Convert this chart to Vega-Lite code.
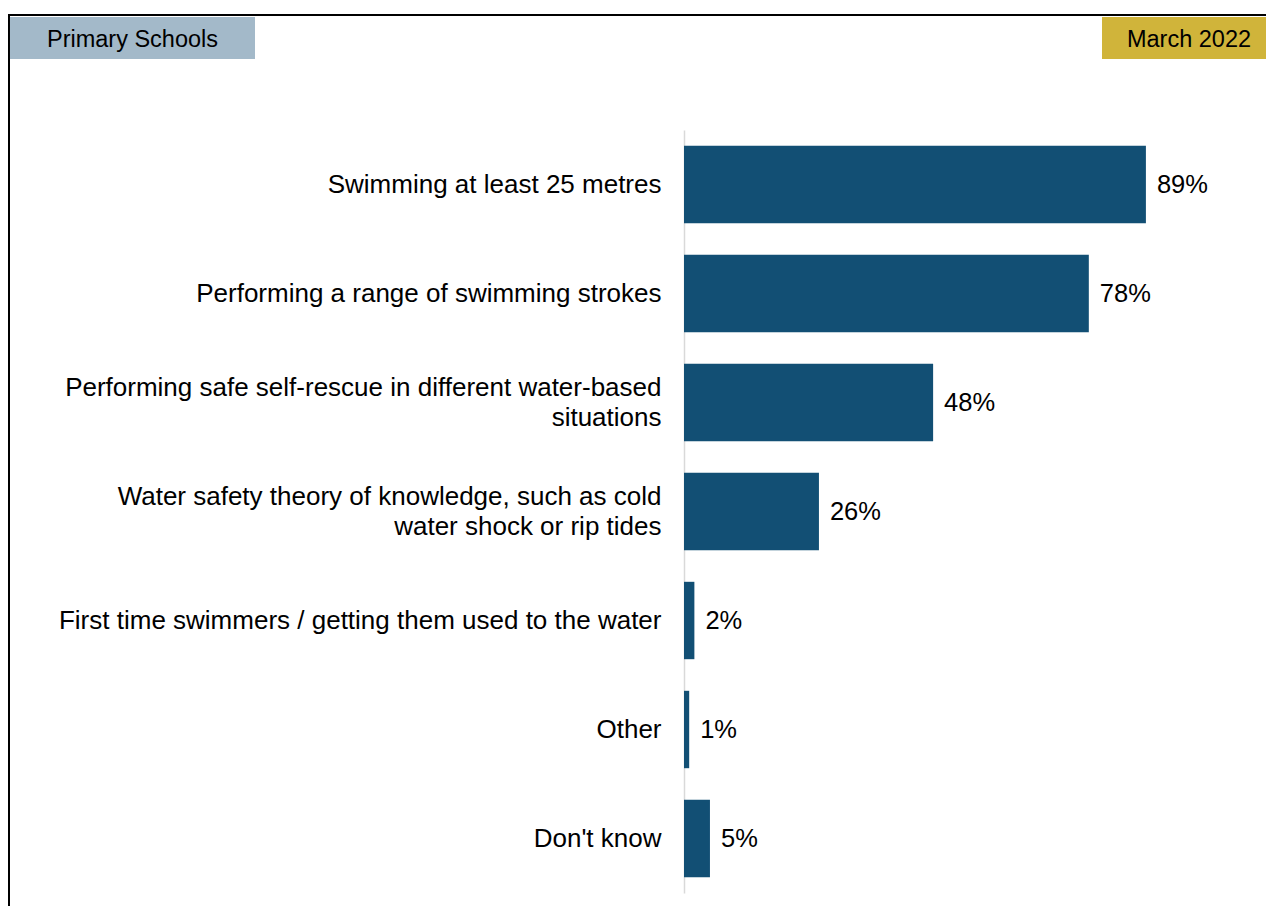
{
  "$schema": "https://vega.github.io/schema/vega-lite/v6.json",
  "width": 1260,
  "height": 900,
  "autosize": {"type": "none"},
  "padding": {"left": 9, "top": 15, "right": 0, "bottom": 0},
  "background": "white",
  "config": {
    "font": "Liberation Sans",
    "view": {"stroke": "black", "strokeWidth": 2}
  },
  "datasets": {
    "answers": [
      {"category": "Swimming at least 25 metres", "share": 0.89},
      {"category": "Performing a range of swimming strokes", "share": 0.78},
      {"category": "Performing safe self-rescue in different water-based|situations", "share": 0.48},
      {"category": "Water safety theory of knowledge, such as cold|water shock or rip tides", "share": 0.26},
      {"category": "First time swimmers / getting them used to the water", "share": 0.02},
      {"category": "Other", "share": 0.01},
      {"category": "Don't know", "share": 0.05}
    ],
    "phase": [{"header": "Primary Schools", "slot": "header"}],
    "date": [{"header": "March 2022", "slot": "header"}]
  },
  "resolve": {"scale": {"y": "independent"}, "axis": {"y": "independent"}},
  "layer": [
    {
      "data": {"name": "answers"},
      "layer": [
        {
          "mark": {"type": "bar", "color": "#124f74"},
          "encoding": {
            "y": {
              "field": "category",
              "type": "nominal",
              "sort": null,
              "scale": {"range": [115, 878], "paddingInner": 0.29, "paddingOuter": 0.145},
              "axis": {
                "title": null,
                "offset": -675,
                "ticks": false,
                "grid": false,
                "domainColor": "#d9d9d9",
                "domainWidth": 1.5,
                "labelFontSize": 26,
                "labelColor": "black",
                "labelPadding": 23,
                "labelLimit": 800,
                "labelLineHeight": 30,
                "labelOffset": {"condition": {"test": "indexof(datum.value, '|') >= 0", "value": -15}, "value": 0},
                "labelExpr": "split(datum.label, '|')"
              }
            },
            "x": {
              "field": "share",
              "type": "quantitative",
              "scale": {"domain": [0, 1], "range": [675, 1194]},
              "axis": null
            }
          }
        },
        {
          "mark": {"type": "text", "align": "left", "baseline": "middle", "dx": 11, "fontSize": 25.5, "color": "black"},
          "encoding": {
            "y": {"field": "category", "type": "nominal", "sort": null},
            "x": {"field": "share", "type": "quantitative"},
            "text": {"field": "share", "type": "quantitative", "format": ".0%"}
          }
        }
      ]
    },
    {
      "data": {"name": "phase"},
      "layer": [
        {
          "mark": {"type": "rect", "color": "#a3b9c9"},
          "encoding": {
            "y": {"field": "slot", "type": "nominal", "scale": {"range": [2, 44], "paddingInner": 0, "paddingOuter": 0}, "axis": null},
            "x": {"datum": -1.2987, "type": "quantitative", "scale": {"domain": [0, 1], "range": [675, 1194]}},
            "x2": {"datum": -0.8266}
          }
        },
        {
          "mark": {"type": "text", "fontSize": 23.5, "color": "black", "baseline": "middle", "align": "center", "dy": 2},
          "encoding": {
            "y": {"field": "slot", "type": "nominal"},
            "x": {"datum": -1.0626, "type": "quantitative"},
            "text": {"field": "header"}
          }
        }
      ]
    },
    {
      "data": {"name": "date"},
      "layer": [
        {
          "mark": {"type": "rect", "color": "#d0b43a"},
          "encoding": {
            "y": {"field": "slot", "type": "nominal", "scale": {"range": [2, 44], "paddingInner": 0, "paddingOuter": 0}, "axis": null},
            "x": {"datum": 0.8054, "type": "quantitative", "scale": {"domain": [0, 1], "range": [675, 1194]}},
            "x2": {"datum": 1.1407}
          }
        },
        {
          "mark": {"type": "text", "fontSize": 23.5, "color": "black", "baseline": "middle", "align": "center", "dy": 2},
          "encoding": {
            "y": {"field": "slot", "type": "nominal"},
            "x": {"datum": 0.973, "type": "quantitative"},
            "text": {"field": "header"}
          }
        }
      ]
    }
  ]
}
